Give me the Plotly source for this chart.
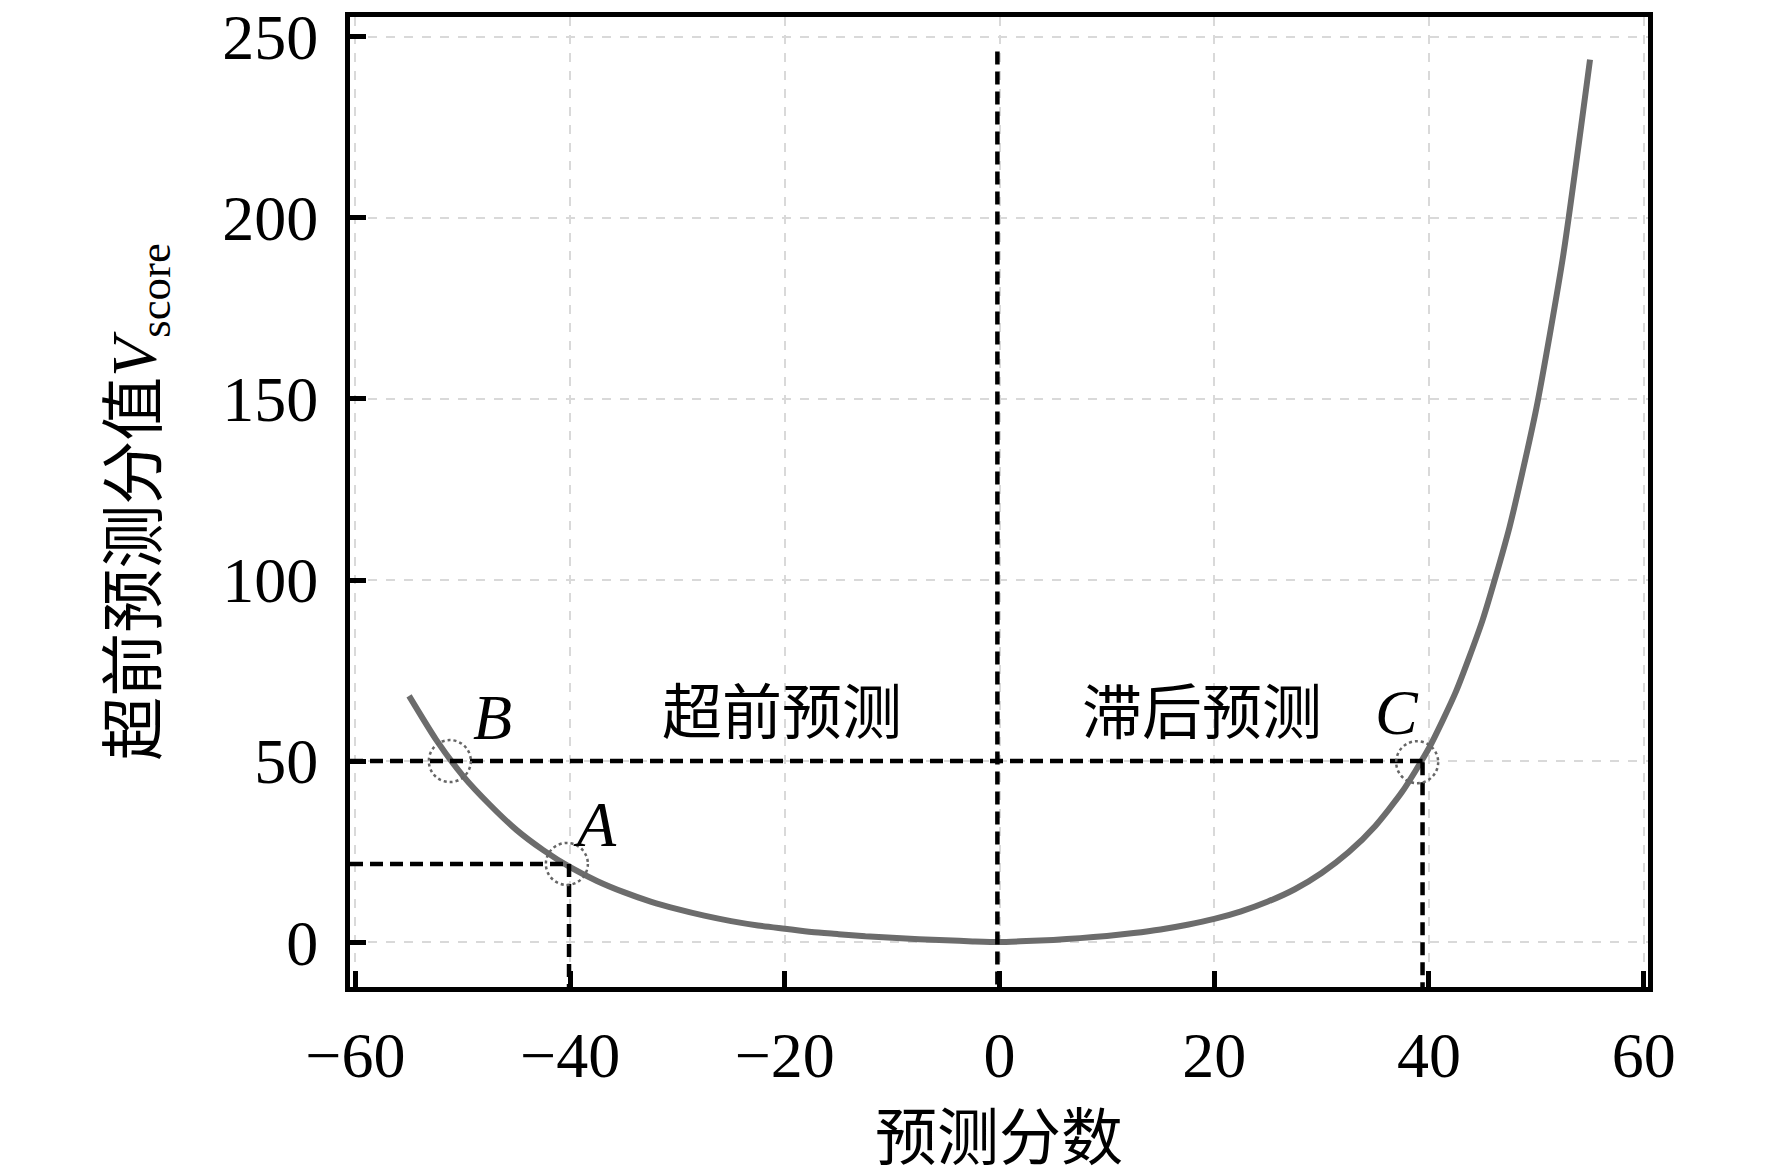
import plotly.graph_objects as go

# Puntos (valores estimados a partir de la figura)
x_pred = [-55, -52.5, -50, -47.5, -45, -42.5, -40, -37.5, -35, -32.5, -30, -27.5, -25, -22.5,
          -20, -17.5, -15, -12.5, -10, -7.5, -5, -2.5, 0, 2.5, 5, 7.5, 10, 12.5, 15, 17.5,
          20, 22.5, 25, 27.5, 30, 32.5, 35, 37.5, 40, 42.5, 45, 47.5, 50, 52.5, 55]
v_score = [68, 56, 46, 38, 31, 25.4, 20.7, 16.9, 13.8, 11.2, 9.1, 7.3, 5.8, 4.6,
           3.7, 2.8, 2.2, 1.6, 1.2, 0.8, 0.5, 0.2, 0, 0.3, 0.6, 1.1, 1.7, 2.5, 3.5, 4.8,
           6.4, 8.5, 11.2, 14.6, 19.1, 24.8, 32.1, 41.5, 53.6, 69.1, 89.0, 114.6, 147.4, 189.6, 243.7]

# Puntos marcados A, B, C
etiquetas = ['A', 'B', 'C']
pt_x = [-40.3, -51.2, 38.9]
pt_y = [21.6, 50.0, 49.7]
lab_x = [-37.7, -47.2, 37.0]
lab_y = [32.5, 62.0, 63.5]

# Rangos y líneas de referencia
y_lim = [-12.4, 255.5]
x_lim = [-60.5, 60.4]
x_cero = -0.2
y_cero_top = 246

textos = ['超前预测', '滞后预测']
textos_x = [-20.3, 18.9]
textos_y = [63, 63]

fuente = 'Liberation Serif, Noto Sans CJK SC'

fig = go.Figure()
fig.add_trace(go.Scatter(x=x_pred, y=v_score, mode='lines',
                         line=dict(color='#6c6c6c', width=6, shape='spline', smoothing=0.6),
                         showlegend=False, hoverinfo='skip'))

dash_neg = '13px,7px'
lineas = [
    (x_lim[0], pt_y[1], 39.4, pt_y[1]),      # horizontal y=50 hasta C
    (x_lim[0], pt_y[0], -40.1, pt_y[0]),     # horizontal en A
    (-40.1, pt_y[0], -40.1, y_lim[0]),       # vertical en A
    (39.4, pt_y[2], 39.4, y_lim[0]),         # vertical en C
    (x_cero, y_cero_top, x_cero, y_lim[0]),  # vertical en cero
]
for x0, y0, x1, y1 in lineas:
    fig.add_shape(type='line', x0=x0, y0=y0, x1=x1, y1=y1, xref='x', yref='y',
                  line=dict(color='black', width=4.5, dash=dash_neg))

# Círculos en A, B, C
for px_, py_ in zip(pt_x, pt_y):
    fig.add_shape(type='circle', xref='x', yref='y', xsizemode='pixel', ysizemode='pixel',
                  xanchor=px_, yanchor=py_, x0=-21, x1=21, y0=-21, y1=21,
                  line=dict(color='#666666', width=2.5, dash='dot'))

for t, lx, ly in zip(etiquetas, lab_x, lab_y):
    fig.add_annotation(x=lx, y=ly, text='<i>' + t + '</i>', showarrow=False,
                       font=dict(family=fuente, size=64, color='black'))

for t, tx, ty in zip(textos, textos_x, textos_y):
    fig.add_annotation(x=tx, y=ty, text=t, showarrow=False,
                       font=dict(family=fuente, size=60, color='black'))

eje = dict(showline=True, linecolor='black', linewidth=5, mirror=True,
           ticks='inside', ticklen=16, tickwidth=5, tickcolor='black',
           showgrid=True, gridcolor='#d9d9d9', griddash='dash', gridwidth=2,
           zeroline=False, ticklabeloverflow='allow', automargin=False,
           tickfont=dict(family=fuente, size=64, color='black'))

fig.update_layout(
    width=1772, height=1172,
    plot_bgcolor='white', paper_bgcolor='white',
    margin=dict(l=342, r=132, t=9, b=193),
    xaxis=dict(eje, range=x_lim, tickvals=[-60, -40, -20, 0, 20, 40, 60],
               ticklabelstandoff=8,
               title=dict(text='预测分数', font=dict(family=fuente, size=62, color='black'),
                          standoff=28)),
    yaxis=dict(eje, range=y_lim, tickvals=[0, 50, 100, 150, 200, 250],
               ticklabelstandoff=14,
               title=dict(text='超前预测分值<i>V</i><sub>score</sub>',
                          font=dict(family=fuente, size=64, color='black'),
                          standoff=46)),
)

fig.write_html('out.html')
